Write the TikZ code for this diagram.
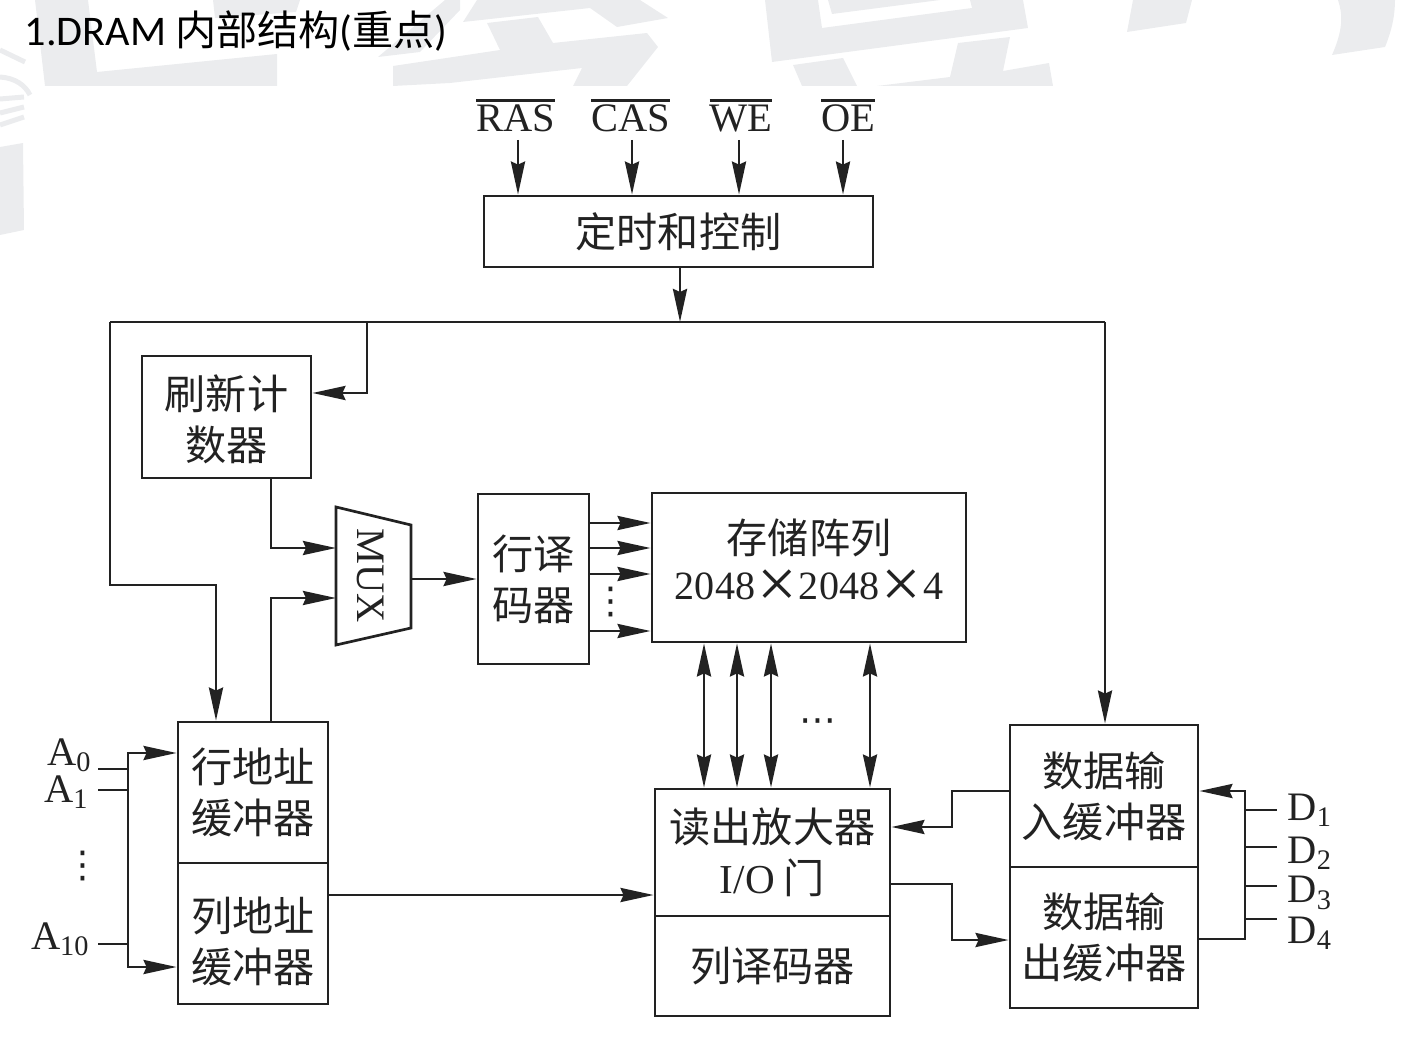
\documentclass[tikz,border=0pt]{standalone}
\usepackage{fontspec}
\setmainfont{Liberation Serif}
\newfontfamily\cjk{Noto Sans CJK SC}
\newfontfamily\titlefont{Carlito}
\newfontfamily\symfont{DejaVu Sans}
\usetikzlibrary{arrows.meta,positioning,calc}
\definecolor{markgray}{HTML}{EBECEE}
\definecolor{inkgray}{HTML}{222222}
\tikzset{box/.style={draw=inkgray, line width=0.027cm, rectangle, inner sep=0pt, align=center, font=\cjk\fontsize{11.7}{14.5}\selectfont, text=inkgray}}
\tikzset{line/.style={draw=inkgray, line width=0.028cm, -{Stealth[length=0.33cm,width=0.14cm,inset=0.03cm]}}}
\tikzset{both/.style={draw=inkgray, line width=0.028cm, {Stealth[length=0.33cm,width=0.14cm,inset=0.03cm]}-{Stealth[length=0.33cm,width=0.14cm,inset=0.03cm]}}}
\tikzset{wire/.style={draw=inkgray, line width=0.028cm}}
\tikzset{pin/.style={inner sep=0pt, text=inkgray, font=\fontsize{11.5}{13}\selectfont}}
\tikzset{ctl/.style={pin, anchor=south}}
\tikzset{dotnode/.style={inner sep=0pt, text=inkgray, font=\symfont\fontsize{10.5}{12}\selectfont}}
\newcommand{\barlabel}[1]{\vbox{\hrule height 0.8pt \kern 0.9pt\hbox{#1}}}
\newcommand{\bigcross}{\hspace{0.6pt}\raisebox{-2.2pt}{\fontsize{20}{13.2}\selectfont ×}\hspace{0.6pt}}
\begin{document}
\begin{tikzpicture}[x=0.01cm, y=-0.01cm]
    \useasboundingbox (0,0) rectangle (1418,1046);
    % Watermark
    \fill [markgray] (35,0) -- (45,86) -- (277,86) -- (277,54) -- (97,72) -- (88,0) -- cycle;
    \fill [markgray] (213,0) -- (300,0) -- (296,12) -- (215,18) -- cycle;
    \fill [markgray] (378,57) -- (420,52) -- (460,10) -- (460,0) -- (445,0) -- cycle;
    \fill [markgray] (393,66) -- (500,50) -- (487,23) -- (538,17) -- (553,43) -- (647,33) -- (658,47) -- (627,86) -- (573,86) -- (582,68) -- (450,83) -- (393,86) -- cycle;
    \fill [markgray] (463,22) -- (477,0) -- (640,0) -- (668,18) -- (617,27) -- (590,8) -- cycle;
    \fill [markgray] (765,0) -- (772,62) -- (1028,28) -- (1023,0) -- (970,0) -- (972,8) -- (822,28) -- (818,0) -- cycle;
    \fill [markgray] (828,0) -- (832,14) -- (940,0) -- cycle;
    \fill [markgray] (793,65) -- (843,58) -- (857,86) -- (802,86) -- cycle;
    \fill [markgray] (877,86) -- (950,77) -- (958,43) -- (1010,37) -- (1003,71) -- (1049,63) -- (1053,86) -- cycle;
    \fill [markgray] (1133,0) -- (1127,32) -- (1186,23) -- (1192,0) -- cycle;
    \fill [markgray] (1338,0) .. controls (1343,15) and (1343,30) .. (1332,55) -- (1385,47) .. controls (1392,30) and (1395,15) .. (1395,0) -- cycle;
    \fill [markgray] (0,147) -- (23,143) -- (24,230) -- (0,235) -- cycle;
    \draw [markgray, line width=0.05cm] (0,50) -- (25,62);
    \draw [markgray, line width=0.05cm] (0,77) .. controls (15,78) and (25,85) .. (30,95);
    \draw [markgray, line width=0.05cm] (0,99) -- (24,97);
    \draw [markgray, line width=0.05cm] (0,113) -- (24,107);
    \draw [markgray, line width=0.05cm] (0,125) -- (24,117);

    % Title
    \node [anchor=west, inner sep=0pt, font=\titlefont\fontsize{12}{15}\selectfont] (title) at (24,31) {1.DRAM\hspace{2.6pt}{\cjk\fontsize{11.7}{15}\selectfont 内部结构}({\cjk\fontsize{11.7}{15}\selectfont 重点})};

    % Nodes
    \node [box, minimum width=3.89cm, minimum height=0.71cm] (timing)  at (678.5,231.5) {定时和控制};
    \node [box, minimum width=1.69cm, minimum height=1.22cm] (refresh) at (226.5,417)   {\rule{0pt}{11.1pt}刷新计\\数器};
    \node [box, minimum width=1.11cm, minimum height=1.70cm] (rowdec)  at (533.5,579)   {行译\\码器};
    \node [box, minimum width=3.14cm, minimum height=1.49cm, font=\cjk\fontsize{11.7}{13.2}\selectfont] (array) at (809,567.5) {存储阵列\\{\rmfamily\fontsize{11.4}{13.2}\selectfont 2048\bigcross 2048\bigcross 4}\rule[-4.8pt]{0pt}{0pt}};
    \node [box, minimum width=1.50cm, minimum height=1.41cm] (rowaddr) at (253,792.5)   {行地址\\缓冲器};
    \node [box, minimum width=1.50cm, minimum height=1.41cm, below=-0.027cm of rowaddr] (coladdr) {\rule{0pt}{14.5pt}列地址\\缓冲器};
    \node [box, minimum width=2.35cm, minimum height=1.27cm] (sense)   at (772.5,852.5) {读出放大器\\{\rmfamily I/O} 门};
    \node [box, minimum width=2.35cm, minimum height=1.00cm, below=-0.027cm of sense] (coldec) {列译码器};
    \node [box, minimum width=1.88cm, minimum height=1.42cm] (datain)  at (1104,796)    {数据输\\入缓冲器};
    \node [box, minimum width=1.88cm, minimum height=1.41cm, below=-0.027cm of datain] (dataout) {数据输\\出缓冲器};

    % Mux
    \coordinate (muxa) at (336,507);
    \coordinate (muxb) at (411,525);
    \coordinate (muxc) at (411,628);
    \coordinate (muxd) at (336,645);
    \draw [draw=inkgray, line width=0.027cm] (muxa) -- (muxb) -- (muxc) -- (muxd) -- cycle;
    \node [pin, rotate=-90] (mux) at (371,576) {MUX};

    % Pins
    \node [ctl] (ras) at (515.5,133) {\barlabel{RAS}};
    \node [ctl] (cas) at (630.5,133) {\barlabel{CAS}};
    \node [ctl] (we)  at (741,133)   {\barlabel{WE}};
    \node [ctl] (oe)  at (848,133)   {\barlabel{OE}};
    \node [pin, anchor=east] (a0)  at (93,755)  {A\textsubscript{0}};
    \node [pin, anchor=east] (a1)  at (90,792)  {A\textsubscript{1}};
    \node [pin, anchor=east] (a10) at (91,939)  {A\textsubscript{10}};
    \node [pin, anchor=west] (d1)  at (1287,810) {D\textsubscript{1}};
    \node [pin, anchor=west] (d2)  at (1287,853) {D\textsubscript{2}};
    \node [pin, anchor=west] (d3)  at (1287,893) {D\textsubscript{3}};
    \node [pin, anchor=west] (d4)  at (1287,933) {D\textsubscript{4}};
    \node [dotnode] (adots) at (83,866) {⋮};
    \node [dotnode] (rdots) at (611,602) {⋮};
    \node [dotnode] (bdots) at (818,726) {⋯};

    % Bus corners
    \coordinate (tjoin) at (680,322);
    \coordinate (tleft) at (110,322);
    \coordinate (tmid)  at (367,322);
    \coordinate (tright) at (1105,322);
    \coordinate (abus)  at (128,790);
    \coordinate (dbus)  at (1245,847);

    % Paths
    \path [line, shorten <=0.07cm] (ras.south -| 518,0) -- (timing.north -| 518,0);
    \path [line, shorten <=0.07cm] (cas.south -| 632,0) -- (timing.north -| 632,0);
    \path [line, shorten <=0.07cm] (we.south -| 739,0) -- (timing.north -| 739,0);
    \path [line, shorten <=0.07cm] (oe.south -| 843,0) -- (timing.north -| 843,0);
    \path [line] (timing.south -| tjoin) -- (tjoin);
    \path [wire] (tleft) -- (tright);
    \path [line] (tright) -- (datain.north -| tright);
    \path [line] (tmid) |- (refresh.east |- 0,393);
    \path [line] (tleft) |- (216,585) -- (rowaddr.north -| 216,0);
    \path [line] (refresh.south -| 271,0) |- (muxa |- 0,548);
    \path [line] (rowaddr.north -| 271,0) |- (muxd |- 0,598);
    \path [line] (muxb |- 0,579) -- (rowdec.west |- 0,579);
    \path [line] (rowdec.east |- 0,523) -- (array.west |- 0,523);
    \path [line] (rowdec.east |- 0,548) -- (array.west |- 0,548);
    \path [line] (rowdec.east |- 0,574) -- (array.west |- 0,574);
    \path [line] (rowdec.east |- 0,631) -- (array.west |- 0,631);
    \path [both] (array.south -| 704,0) -- (sense.north -| 704,0);
    \path [both] (array.south -| 737,0) -- (sense.north -| 737,0);
    \path [both] (array.south -| 771,0) -- (sense.north -| 771,0);
    \path [both] (array.south -| 870,0) -- (sense.north -| 870,0);
    \path [line] (coladdr.east |- 0,895) -- (sense.west |- 0,895);
    \path [line] (datain.west |- 0,791) -| (952,827) -- (sense.east |- 0,827);
    \path [line] (sense.east |- 0,884) -| (952,940) -- (dataout.west |- 0,940);
    \path [wire] (98,769) -- (abus |- 0,769);
    \path [wire] (98,790) -- (abus);
    \path [wire] (98,944) -- (abus |- 0,944);
    \path [line] (abus) |- (rowaddr.west |- 0,753);
    \path [line] (abus) |- (coladdr.west |- 0,967);
    \path [wire] (dataout.east |- 0,939) -| (dbus);
    \path [line] (dbus) |- (datain.east |- 0,791);
    \path [wire] (dbus |- 0,810) -- (1277,810);
    \path [wire] (dbus) -- (1277,847);
    \path [wire] (dbus |- 0,886) -- (1277,886);
    \path [wire] (dbus |- 0,919) -- (1277,919);
\end{tikzpicture}
\end{document}
